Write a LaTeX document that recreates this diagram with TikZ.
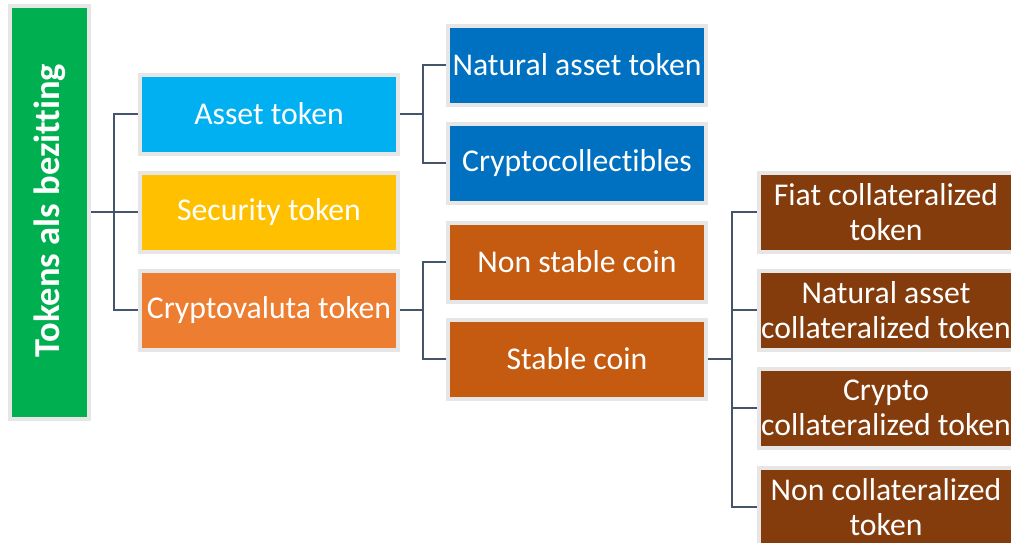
\documentclass[tikz,border=0pt]{standalone}
\usepackage{fontspec}
\setmainfont{Carlito}[RawFeature=-liga]
\definecolor{cgreen}{HTML}{00B050}
\definecolor{clblue}{HTML}{00B0F0}
\definecolor{cyellow}{HTML}{FFC000}
\definecolor{corange}{HTML}{ED7D31}
\definecolor{cblue}{HTML}{0070C0}
\definecolor{cdorange}{HTML}{C55A11}
\definecolor{cbrown}{HTML}{843C0C}
\definecolor{cborder}{HTML}{E6E6E6}
\definecolor{cline}{HTML}{44546A}
\tikzset{
  box/.style={draw=cborder, line width=4pt, text=white, minimum width=258pt, minimum height=79pt,
    inner sep=0pt, align=center, font=\fontsize{31.7}{35}\selectfont},
  conn/.style={draw=cline, line width=2.8pt}
}
\begin{document}
\begin{tikzpicture}[x=1pt,y=-1pt]
\useasboundingbox (0,0) rectangle (1011,542);
\begin{scope}
\clip (0,0) rectangle (1011,542);
\node[box, fill=cgreen, minimum width=79pt, minimum height=413pt] (root) at (49.5,212.5) {};
\node[rotate=90, text=white, font=\bfseries\fontsize{36.5}{40}\selectfont] (roottext) at (50,210.5) {Tokens als bezitting};

\node[box, fill=clblue] (asset) at (269,114) {Asset token};
\node[box, fill=cyellow] (security) at (269,212) {Security token};
\node[box, fill=corange] (crypto) at (269,310) {Cryptovaluta token};

\node[box, fill=cblue] (natural) at (577,65) {Natural asset token};
\node[box, fill=cblue] (collect) at (577,163) {Cryptocollectibles};
\node[box, fill=cdorange] (nonstable) at (577,262) {Non stable coin};
\node[box, fill=cdorange] (stable) at (577,359) {Stable coin};

\node[box, fill=cbrown, minimum width=254pt] (fiat) at (886,212) {Fiat collateralized\\token};
\node[box, fill=cbrown, minimum width=254pt] (natcol) at (886,310) {Natural asset\\collateralized token};
\node[box, fill=cbrown, minimum width=254pt] (cryptocol) at (886,408) {Crypto\\collateralized token};
\node[box, fill=cbrown, minimum width=254pt] (noncol) at (886,507) {Non collateralized\\token};

\coordinate (t1) at (114,212);
\coordinate (t2) at (423,114);
\coordinate (t3) at (423,310);
\coordinate (t4) at (732,359);

\draw[conn] (root.east |- t1) -- (t1);
\draw[conn] (t1) |- (asset.west);
\draw[conn] (t1) -- (security.west);
\draw[conn] (t1) |- (crypto.west);

\draw[conn] (asset.east) -- (t2);
\draw[conn] (t2) |- (natural.west);
\draw[conn] (t2) |- (collect.west);

\draw[conn] (crypto.east) -- (t3);
\draw[conn] (t3) |- (nonstable.west);
\draw[conn] (t3) |- (stable.west);

\draw[conn] (stable.east) -- (t4);
\draw[conn] (t4) |- (fiat.west);
\draw[conn] (t4) |- (natcol.west);
\draw[conn] (t4) |- (cryptocol.west);
\draw[conn] (t4) |- (noncol.west);
\end{scope}
\end{tikzpicture}
\end{document}
